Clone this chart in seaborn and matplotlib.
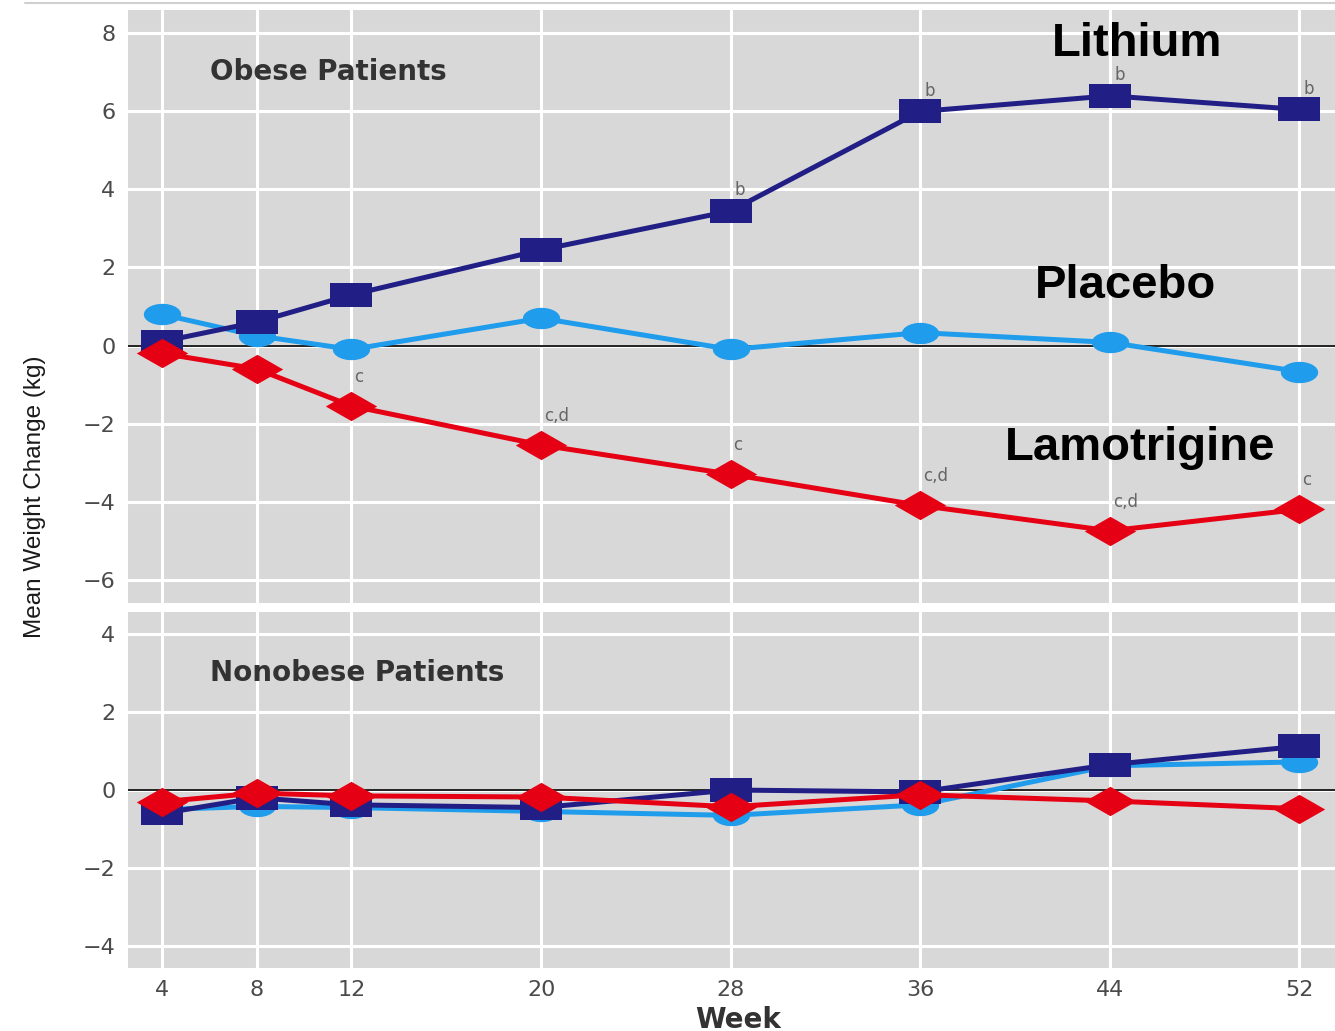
import math
import matplotlib
matplotlib.use("Agg")
import matplotlib.pyplot as plt
from matplotlib import font_manager
from matplotlib.lines import Line2D
import pandas as pd
import seaborn as sns

# ---- data -------------------------------------------------------------
weeks = [4, 8, 12, 20, 28, 36, 44, 52]
drugs = ["Placebo", "Lithium", "Lamotrigine"]

obese_placebo = [0.8, 0.25, -0.1, 0.7, -0.1, 0.33, 0.08, -0.67]
obese_lithium = [0.1, 0.6, 1.3, 2.45, 3.45, 6.0, 6.4, 6.05]
obese_lamotrigine = [-0.2, -0.6, -1.55, -2.55, -3.3, -4.1, -4.75, -4.2]

nonobese_placebo = [-0.5, -0.42, -0.45, -0.55, -0.65, -0.38, 0.62, 0.72]
nonobese_lithium = [-0.6, -0.2, -0.38, -0.45, 0.0, -0.05, 0.65, 1.12]
nonobese_lamotrigine = [-0.3, -0.08, -0.15, -0.18, -0.43, -0.12, -0.28, -0.48]

# significance letters (obese patients)
lithium_sig_weeks = [28, 36, 44, 52]
lithium_sig_labels = ["b", "b", "b", "b"]
lamotrigine_sig_weeks = [12, 20, 28, 36, 44, 52]
lamotrigine_sig_labels = ["c", "c,d", "c", "c,d", "c,d", "c"]

top_yticks = [-6, -4, -2, 0, 2, 4, 6, 8]
bottom_yticks = [-4, -2, 0, 2, 4]

# ---- styling ----------------------------------------------------------
colors = {"Placebo": "#1f9ceb", "Lithium": "#211f85", "Lamotrigine": "#e60013"}
# wide (horizontally stretched) markers
markers = {
    "Placebo": [(1.75 * math.cos(2 * math.pi * t / 24), math.sin(2 * math.pi * t / 24))
                for t in range(24)],
    "Lithium": [(-1.8, -1), (1.8, -1), (1.8, 1), (-1.8, 1)],
    "Lamotrigine": [(-1.75, 0), (0, 1), (1.75, 0), (0, -1)],
}
msizes = {"Placebo": 27, "Lithium": 30, "Lamotrigine": 37}

sns.set_theme(style="darkgrid")
plt.rcParams["font.family"] = ["DejaVu Sans"]

installed = {f.name for f in font_manager.fontManager.ttflist}
if "Liberation Sans Narrow" in installed:
    ylabel_font, ylabel_size = "Liberation Sans Narrow", 20.5
else:
    ylabel_font, ylabel_size = "Liberation Sans", 17.5

W, H = 1335, 1031
fig = plt.figure(figsize=(W / 100, H / 100), dpi=100)
fig.patch.set_facecolor("white")

ax_top = fig.add_axes([128 / W, 1 - 603 / H, 1 - 128 / W, (603 - 10) / H])
ax_bot = fig.add_axes([128 / W, 1 - 968 / H, 1 - 128 / W, (968 - 612) / H])


def long_frame(p, l, m):
    return pd.DataFrame({
        "week": weeks * 3,
        "change": p + l + m,
        "drug": ["Placebo"] * len(weeks) + ["Lithium"] * len(weeks) + ["Lamotrigine"] * len(weeks),
    })


df_top = long_frame(obese_placebo, obese_lithium, obese_lamotrigine)
df_bot = long_frame(nonobese_placebo, nonobese_lithium, nonobese_lamotrigine)

for ax, df, ylim, yt in [
    (ax_top, df_top, (-6.6, 8.6), top_yticks),
    (ax_bot, df_bot, (-4.56, 4.56), bottom_yticks),
]:
    ax.set_facecolor("#d8d8d8")
    ax.axhline(0, color="#222222", lw=1.4, zorder=1.5)
    for d in drugs:
        sub = df[df["drug"] == d]
        sns.lineplot(
            data=sub, x="week", y="change", ax=ax, color=colors[d],
            linewidth=3.6, marker=markers[d], markersize=msizes[d],
            markeredgewidth=0, legend=False, zorder=3,
        )
    ax.set_xlim(2.57, 53.5)
    ax.set_ylim(*ylim)
    ax.set_xticks(weeks)
    ax.set_yticks(yt)
    ax.grid(True, color="white", linewidth=2.2)
    ax.set_axisbelow(True)
    for s in ax.spines.values():
        s.set_visible(False)
    ax.tick_params(length=0, labelsize=16, labelcolor="#4a4a4a", pad=9)
    ax.set_xlabel("")
    ax.set_ylabel("")

ax_top.set_xticklabels([])

# significance letters
for wk, lab in zip(lithium_sig_weeks, lithium_sig_labels):
    y = obese_lithium[weeks.index(wk)]
    ax_top.annotate(lab, (wk, y), xytext=(3, 15), textcoords="offset points",
                    ha="left", va="center", fontsize=12, color="#666666")
for wk, lab in zip(lamotrigine_sig_weeks, lamotrigine_sig_labels):
    y = obese_lamotrigine[weeks.index(wk)]
    ax_top.annotate(lab, (wk, y), xytext=(2, 21), textcoords="offset points",
                    ha="left", va="center", fontsize=12, color="#666666")

# panel titles
fig.text(210 / W, 1 - 72 / H, "Obese Patients", ha="left", va="center",
         fontsize=20, fontweight="semibold", color="#333333")
fig.text(210 / W, 1 - 673 / H, "Nonobese Patients", ha="left", va="center",
         fontsize=20, fontweight="semibold", color="#333333")

# series names
big = dict(fontsize=34, fontweight="bold", color="black",
           family=["Liberation Sans", "DejaVu Sans"], ha="center", va="baseline")
fig.text(1137 / W, 1 - 56 / H, "Lithium", **big)
fig.text(1126 / W, 1 - 298 / H, "Placebo", **big)
fig.text(1140 / W, 1 - 460 / H, "Lamotrigine", **big)

# axis labels
fig.text(35 / W, 1 - 497 / H, "Mean Weight Change (kg)", rotation=90,
         ha="center", va="center", fontsize=ylabel_size, color="#1a1a1a",
         family=[ylabel_font, "DejaVu Sans"])
fig.text(738 / W, 1 - 1006 / H, "Week", ha="center", va="top",
         fontsize=20, fontweight="bold", color="#333333")

# thin rule across the top
fig.add_artist(Line2D([25 / W, 1.0], [1 - 3 / H, 1 - 3 / H],
                      color="#d0d0d0", lw=1.5, transform=fig.transFigure))

fig.savefig("out.png", dpi=100)
